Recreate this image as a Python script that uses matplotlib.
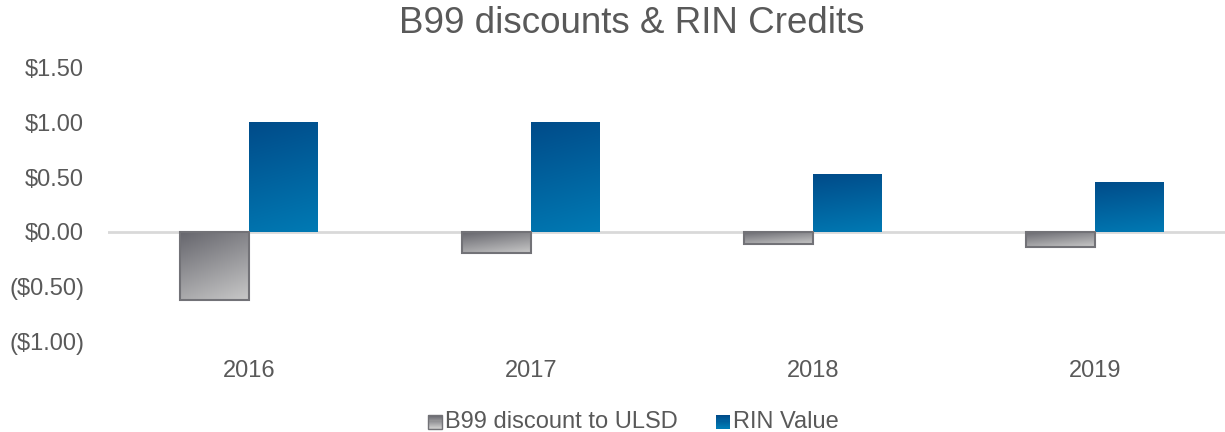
import numpy as np
import matplotlib
matplotlib.use("Agg")
import matplotlib.pyplot as plt
from matplotlib.patches import Rectangle
from matplotlib.legend_handler import HandlerBase
from matplotlib.colors import to_rgb

plt.rcParams['font.family'] = ['Liberation Sans', 'DejaVu Sans']

years = ["2016", "2017", "2018", "2019"]
b99_discount = [-0.62, -0.19, -0.11, -0.14]
rin_value = [1.01, 1.01, 0.53, 0.46]
yticks = [-1.0, -0.5, 0.0, 0.5, 1.0, 1.5]

GRAY_TOP, GRAY_BOT, GRAY_EDGE = "#66666d", "#c8c8c8", "#727277"
BLUE_TOP, BLUE_BOT = "#004b89", "#007ab4"
TXT = "#595959"


def grad_img(c_top, c_bot, diag=0.0, n=100):
    a, b = np.array(to_rgb(c_top)), np.array(to_rgb(c_bot))
    v = np.linspace(0, 1, n)[:, None]
    u = np.linspace(0, 1, n)[None, :]
    t = np.clip((1 - diag) * v + diag * u, 0, 1)
    return a + (b - a) * t[..., None]


def grad_bars(ax, bars, c_top, c_bot, diag=0.0):
    img = grad_img(c_top, c_bot, diag)
    for bar in bars:
        x, y = bar.get_xy()
        w, h = bar.get_width(), bar.get_height()
        y0, y1 = min(y, y + h), max(y, y + h)
        im = ax.imshow(img, extent=[x, x + w, y0, y1], origin="upper",
                       aspect="auto", zorder=2, interpolation="bilinear")
        im.set_clip_path(bar)


class HandlerGrad(HandlerBase):
    def __init__(self, c_top, c_bot, edge=None):
        super().__init__()
        self.c_top, self.c_bot, self.edge = c_top, c_bot, edge

    def create_artists(self, legend, orig, xd, yd, width, height, fontsize, trans):
        s = height * 0.85
        x0 = xd + width - s
        y0 = yd + (height - s) / 2 - 1
        arts = []
        n = 12
        a, b = np.array(to_rgb(self.c_top)), np.array(to_rgb(self.c_bot))
        for i in range(n):
            c = a + (b - a) * (i / (n - 1))
            arts.append(Rectangle((x0, y0 + s - (i + 1) * s / n), s, s / n,
                                  facecolor=c, edgecolor="none", transform=trans))
        if self.edge:
            arts.append(Rectangle((x0, y0), s, s, facecolor="none",
                                  edgecolor=self.edge, lw=1, transform=trans))
        return arts


fig = plt.figure(figsize=(12.25, 4.32), dpi=100)
ax = fig.add_axes([0.088, 0.2106, 0.921, 0.632])

x = np.arange(len(years))
w = 0.243
ax.axhline(0, color="#d9d9d9", lw=2, zorder=1)
gb = ax.bar(x - w / 2, b99_discount, w, facecolor="none", edgecolor=GRAY_EDGE,
            lw=1.5, zorder=3)
bb = ax.bar(x + w / 2, rin_value, w, facecolor="none", edgecolor="none", zorder=3)
grad_bars(ax, gb, GRAY_TOP, GRAY_BOT, diag=0.3)
grad_bars(ax, bb, BLUE_TOP, BLUE_BOT, diag=0.15)

ax.set_xlim(-0.5, 3.5)
ax.set_ylim(-1.0, 1.5)
ax.set_xticks(x)
ax.set_xticklabels(years)
ax.set_yticks(yticks)
ax.set_yticklabels([f"${v:.2f}" if v >= 0 else f"(${-v:.2f})" for v in yticks])
ax.tick_params(length=0, labelsize=17, colors=TXT)
ax.tick_params(axis="x", pad=14)
ax.tick_params(axis="y", pad=17)
for sp in ax.spines.values():
    sp.set_visible(False)

fig.text(0.516, 0.945, "B99 discounts & RIN Credits", ha="center", va="center",
         fontsize=26.5, color=TXT)

h1, h2 = Rectangle((0, 0), 1, 1), Rectangle((0, 0), 1, 1)
leg = fig.legend([h1, h2], ["B99 discount to ULSD", "RIN Value"], ncol=2,
                 loc="center", bbox_to_anchor=(0.517, 0.022), frameon=False,
                 fontsize=17, handlelength=0.6, handletextpad=0.15, columnspacing=1.6,
                 handler_map={h1: HandlerGrad(GRAY_TOP, GRAY_BOT, GRAY_EDGE),
                              h2: HandlerGrad(BLUE_TOP, BLUE_BOT)})
for t in leg.get_texts():
    t.set_color(TXT)

fig.savefig("out.png", dpi=100)
